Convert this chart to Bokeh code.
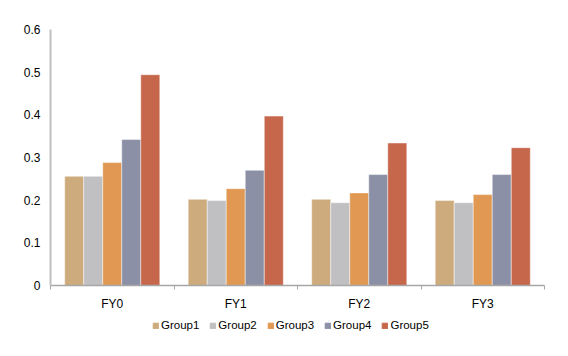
from bokeh.plotting import figure
from bokeh.layouts import column
from bokeh.models import ColumnDataSource, Range1d, FixedTicker, Legend, LegendItem
from bokeh.transform import dodge
from bokeh.embed import file_html
from bokeh.resources import INLINE

categories = ["FY0", "FY1", "FY2", "FY3"]
groups = ["Group1", "Group2", "Group3", "Group4", "Group5"]
group1 = [0.256, 0.202, 0.202, 0.199]
group2 = [0.256, 0.199, 0.194, 0.194]
group3 = [0.288, 0.227, 0.217, 0.213]
group4 = [0.342, 0.270, 0.260, 0.260]
group5 = [0.494, 0.397, 0.334, 0.323]
colors = ["#CDAB7C", "#C0C0C2", "#E09853", "#8B90A6", "#C6674B"]
y_ticks = [0, 0.1, 0.2, 0.3, 0.4, 0.5, 0.6]

series = [group1, group2, group3, group4, group5]
xpos = [i + 0.5 for i in range(len(categories))]
data = {"x": xpos}
for g, s in zip(groups, series):
    data[g] = s
source = ColumnDataSource(data)

FONT = "Liberation Sans"

p = figure(width=568, height=313, output_backend="svg", toolbar_location=None,
           x_range=Range1d(0, len(categories)), y_range=Range1d(0, 0.6))
p.min_border_left = 50
p.min_border_right = 24
p.min_border_top = 29
p.min_border_bottom = 25
p.outline_line_color = None
p.grid.visible = False
p.background_fill_color = "white"
p.border_fill_color = "white"

bw = 0.154
for k, (g, c) in enumerate(zip(groups, colors)):
    p.vbar(x=dodge("x", (k - 2) * bw, range=p.x_range), top=g, width=bw,
           source=source, fill_color=c, line_color="white", line_alpha=0.45,
           line_width=1)

# x axis
xa = p.xaxis[0]
xa.ticker = FixedTicker(ticks=xpos, minor_ticks=list(range(len(categories) + 1)))
xa.major_label_overrides = {x: c for x, c in zip(xpos, categories)}
xa.major_tick_line_color = None
xa.major_tick_out = 0
xa.major_tick_in = 0
xa.minor_tick_out = 4
xa.minor_tick_in = 0
xa.minor_tick_line_color = "#A6A6A6"
xa.minor_tick_line_width = 1
xa.axis_line_color = "#A6A6A6"
xa.axis_line_width = 1.5
xa.major_label_text_font = FONT
xa.major_label_text_font_size = "12px"
xa.major_label_text_color = "#000000"
xa.major_label_standoff = 7

# y axis
ya = p.yaxis[0]
ya.ticker = FixedTicker(ticks=y_ticks)
ya.major_label_overrides = {t: ("0" if t == 0 else f"{t:.1f}") for t in y_ticks}
ya.major_tick_line_color = None
ya.major_tick_out = 0
ya.major_tick_in = 0
ya.minor_tick_line_color = None
ya.axis_line_color = "#BFBFBF"
ya.axis_line_width = 2
ya.major_label_text_font = FONT
ya.major_label_text_font_size = "12px"
ya.major_label_text_color = "#000000"
ya.major_label_standoff = 10

# legend figure
lf = figure(width=568, height=43, output_backend="svg", toolbar_location=None,
            x_range=Range1d(0, 1), y_range=Range1d(0, 1))
lf.min_border_left = 0
lf.min_border_right = 0
lf.min_border_top = 0
lf.min_border_bottom = 0
lf.axis.visible = False
lf.grid.visible = False
lf.outline_line_color = None
dummy = ColumnDataSource(dict(x=[-10.0], top=[-10.0]))
items = []
for g, c in zip(groups, colors):
    r = lf.vbar(x="x", top="top", width=0.1, source=dummy, fill_color=c,
                line_color=c)
    items.append(LegendItem(label=g, renderers=[r]))
legend = Legend(items=items, orientation="horizontal", location=(102, 25),
                glyph_width=7, glyph_height=7, label_standoff=2, spacing=10,
                label_text_font=FONT, label_text_font_size="11.5px",
                label_text_color="#000000", border_line_color=None,
                background_fill_alpha=0, padding=0, margin=0,
                label_height=12, label_text_baseline="middle")
lf.add_layout(legend, "center")

layout = column(p, lf, spacing=0)
open("out.html", "w").write(file_html(layout, INLINE))
